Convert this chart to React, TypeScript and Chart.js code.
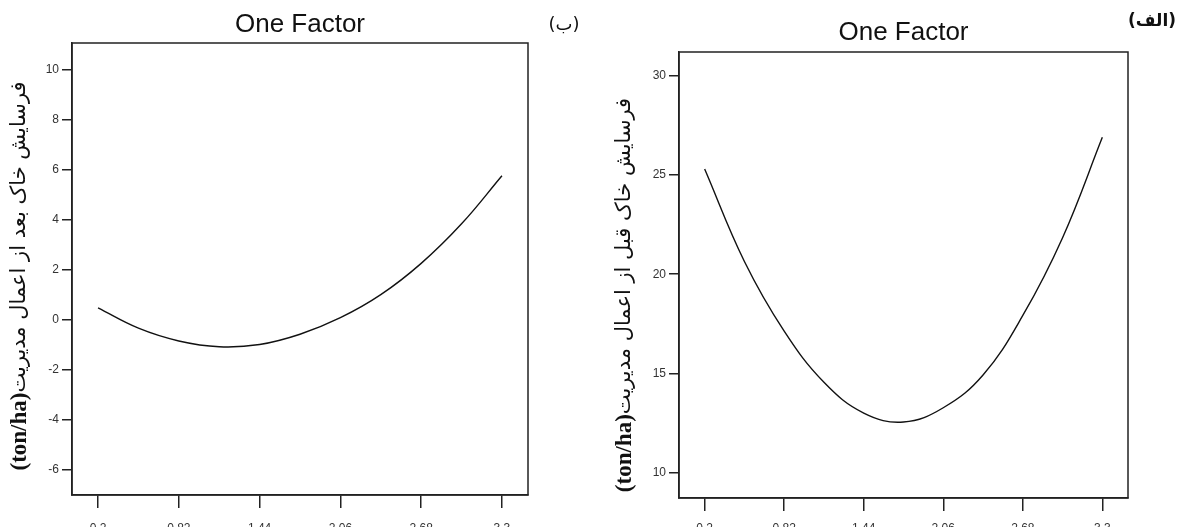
import React, { useEffect, useRef } from "react";
import { Chart, registerables } from "chart.js";

Chart.register(...registerables);

// ---- data ----
const xTickValues = [0.2, 0.82, 1.44, 2.06, 2.68, 3.3];
const xValues = [0.2, 0.51, 0.82, 1.13, 1.44, 1.75, 2.06, 2.37, 2.68, 2.99, 3.3];
// (ب) erosion after management
const afterValues = [0.47, -0.34, -0.85, -1.08, -0.99, -0.58, 0.08, 1.0, 2.25, 3.83, 5.75];
// (الف) erosion before management
const beforeValues = [25.3, 20.64, 17.13, 14.55, 13.0, 12.55, 13.27, 14.92, 17.92, 21.84, 26.9];
const afterYTicks = [-6, -4, -2, 0, 2, 4, 6, 8, 10];
const beforeYTicks = [10, 15, 20, 25, 30];
const chartTitle = "One Factor";
const afterAxisText = "فرسایش خاک بعد از اعمال مدیریت";
const beforeAxisText = "فرسایش خاک قبل از اعمال مدیریت";
const unitText = "(ton/ha)";
const afterTag = "(ب)";
const beforeTag = "(الف)";

const CANVAS_H = 545;

type Panel = {
  left: number;
  width: number;
  area: { left: number; right: number; top: number; bottom: number };
  yMin: number;
  yMax: number;
  yTicks: number[];
  values: number[];
  axisText: string;
  labelCX: number;
  labelCY: number;
  titleCenterY: number;
  tag: string;
  tagFont: string;
  tagX: number;
  tagY: number;
  xLabelPad: number;
};

const panels: Panel[] = [
  {
    left: 0,
    width: 600,
    area: { left: 72, right: 528, top: 43, bottom: 495 },
    yMin: -7,
    yMax: 11.05,
    yTicks: afterYTicks,
    values: afterValues,
    axisText: afterAxisText,
    labelCX: 20,
    labelCY: 276,
    titleCenterY: 25,
    tag: afterTag,
    tagFont: "18px 'DejaVu Sans'",
    tagX: 564,
    tagY: 25,
    xLabelPad: 13,
  },
  {
    left: 600,
    width: 582,
    area: { left: 79, right: 528, top: 52, bottom: 498 },
    yMin: 8.72,
    yMax: 31.2,
    yTicks: beforeYTicks,
    values: beforeValues,
    axisText: beforeAxisText,
    labelCX: 25,
    labelCY: 295,
    titleCenterY: 33,
    tag: beforeTag,
    tagFont: "bold 17px 'DejaVu Sans'",
    tagX: 552,
    tagY: 22,
    xLabelPad: 10,
  },
];

const framePlugin = {
  id: "frame",
  afterDraw(chart: any) {
    const { ctx, chartArea } = chart;
    const { left, top, right, bottom } = chartArea;
    ctx.save();
    ctx.strokeStyle = "#222";
    ctx.lineWidth = 1.5;
    ctx.strokeRect(left, top, right - left, bottom - top);
    ctx.restore();
  },
};

const tagPlugin = {
  id: "tag",
  afterDraw(chart: any, _args: any, opts: any) {
    const { ctx } = chart;
    ctx.save();
    ctx.font = opts.font;
    ctx.fillStyle = "#111";
    ctx.textAlign = "center";
    ctx.textBaseline = "middle";
    ctx.fillText(opts.text, opts.x, opts.y);
    ctx.restore();
  },
};

// rotated y-axis title: Persian text (regular) followed by bold serif unit
const yLabelPlugin = {
  id: "ylabel",
  afterDraw(chart: any, _args: any, opts: any) {
    const { ctx } = chart;
    ctx.save();
    const fa = "21px 'DejaVu Sans'";
    const un = "bold 23px 'Liberation Serif'";
    ctx.font = fa;
    const w1 = ctx.measureText(opts.text).width;
    ctx.font = un;
    const w2 = ctx.measureText(opts.unit).width;
    const W = w1 + w2;
    ctx.translate(opts.x, opts.y);
    ctx.rotate(-Math.PI / 2);
    ctx.fillStyle = "#111";
    ctx.textBaseline = "middle";
    ctx.textAlign = "left";
    ctx.font = un;
    ctx.direction = "ltr";
    ctx.fillText(opts.unit, -W / 2, 0);
    ctx.font = fa;
    ctx.direction = "rtl";
    ctx.textAlign = "left";
    ctx.fillText(opts.text, -W / 2 + w2, 0);
    ctx.restore();
  },
};

function PanelChart({ p }: { p: Panel }) {
  const ref = useRef<HTMLCanvasElement | null>(null);
  useEffect(() => {
    if (!ref.current) return;
    const titleFont = 26;
    const titleLH = titleFont * 1.2;
    const titlePadTop = p.titleCenterY - titleLH / 2;
    const titlePadBottom = p.area.top - titlePadTop - titleLH;
    const chart = new Chart(ref.current, {
      type: "line",
      data: {
        datasets: [
          {
            data: xValues.map((x, i) => ({ x, y: p.values[i] })),
            borderColor: "#111",
            borderWidth: 1.4,
            pointRadius: 0,
            tension: 0.4,
            fill: false,
          },
        ],
      },
      options: {
        responsive: false,
        animation: false,
        devicePixelRatio: 1,
        layout: { padding: { left: 0, top: 0, right: p.width - p.area.right, bottom: 0 } },
        plugins: {
          legend: { display: false },
          tooltip: { enabled: false },
          title: {
            display: true,
            text: chartTitle,
            fullSize: false,
            color: "#111",
            font: { family: "'Liberation Sans', Arial, sans-serif", size: titleFont, weight: "normal" },
            padding: { top: titlePadTop, bottom: titlePadBottom },
          },
          // @ts-ignore
          tag: { text: p.tag, font: p.tagFont, x: p.tagX, y: p.tagY },
          // @ts-ignore
          ylabel: { text: p.axisText, unit: unitText, x: p.labelCX, y: p.labelCY },
        },
        scales: {
          x: {
            type: "linear",
            min: 0,
            max: 3.5,
            afterBuildTicks: (scale: any) => {
              scale.ticks = xTickValues.map((v) => ({ value: v }));
            },
            afterFit: (scale: any) => {
              scale.height = CANVAS_H - p.area.bottom;
            },
            ticks: {
              autoSkip: false,
              maxRotation: 0,
              padding: p.xLabelPad,
              color: "#333",
              font: { family: "'Liberation Sans', Arial, sans-serif", size: 12 },
              callback: (v: any) => String(v),
            },
            grid: { drawOnChartArea: false, drawTicks: true, tickLength: 13, color: "#222", lineWidth: 1.5 },
            border: { display: true, color: "#222", width: 1.5 },
          },
          y: {
            type: "linear",
            min: p.yMin,
            max: p.yMax,
            afterBuildTicks: (scale: any) => {
              scale.ticks = p.yTicks.map((v) => ({ value: v }));
            },
            afterFit: (scale: any) => {
              scale.width = p.area.left;
            },
            ticks: {
              autoSkip: false,
              padding: 3,
              color: "#333",
              font: { family: "'Liberation Sans', Arial, sans-serif", size: 12 },
              callback: (v: any) => String(v),
            },
            grid: { drawOnChartArea: false, drawTicks: true, tickLength: 10, color: "#222", lineWidth: 1.5 },
            border: { display: true, color: "#222", width: 1.5 },
          },
        },
      },
      plugins: [framePlugin, tagPlugin, yLabelPlugin],
    } as any);
    return () => chart.destroy();
  }, [p]);
  return (
    <canvas
      ref={ref}
      width={p.width}
      height={CANVAS_H}
      style={{ position: "absolute", left: p.left, top: 0, width: p.width, height: CANVAS_H }}
    />
  );
}

export default function App() {
  return (
    <div style={{ position: "fixed", left: 0, top: 0, width: 1182, height: CANVAS_H, background: "#fff" }}>
      {panels.map((p, i) => (
        <PanelChart key={i} p={p} />
      ))}
    </div>
  );
}
